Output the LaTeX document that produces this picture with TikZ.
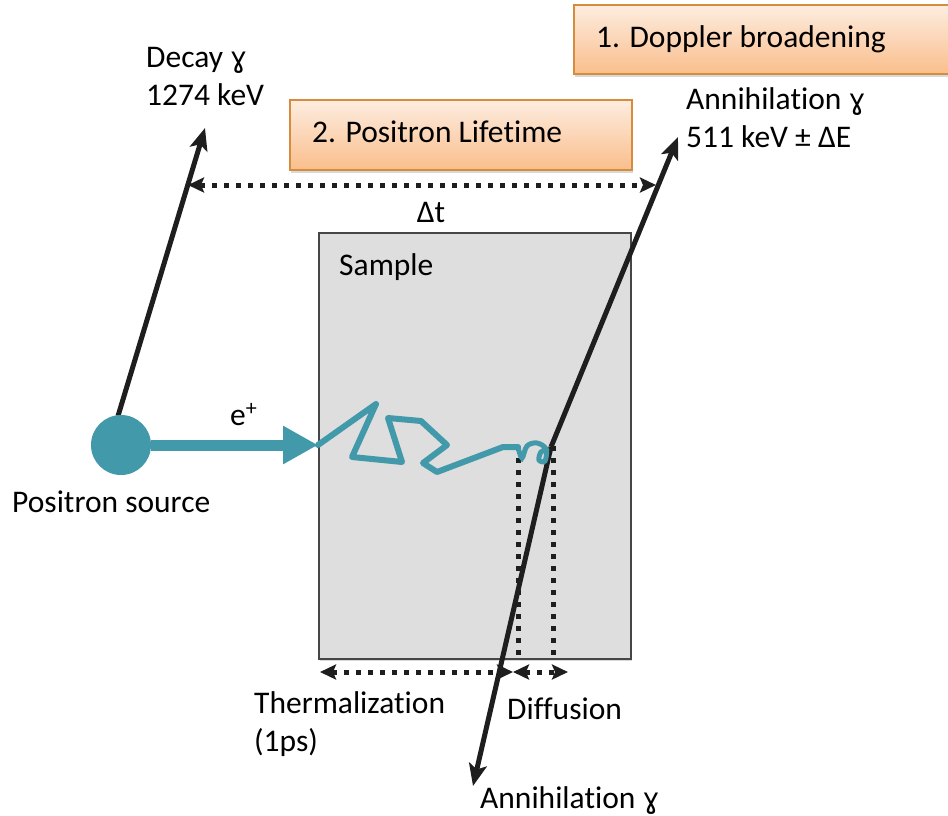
\documentclass[tikz,border=0pt]{standalone}
\usepackage{fontspec}
\setmainfont{Carlito}[Ligatures=NoCommon]
\newfontfamily\dv[Scale=0.9]{DejaVu Sans}
\usetikzlibrary{arrows.meta}
\definecolor{teal1}{RGB}{66,153,170}
\definecolor{boxtop}{RGB}{253,237,224}
\definecolor{boxbot}{RGB}{250,190,140}
\definecolor{boxedge}{RGB}{214,140,60}
\definecolor{samplefill}{RGB}{222,222,222}
\definecolor{sampleedge}{RGB}{70,70,70}
\definecolor{ink}{RGB}{30,30,30}
\newcommand{\gam}{{\dv ɣ}}
\begin{document}
\begin{tikzpicture}[x=1pt,y=-1pt,
  txt/.style={font=\fontsize{31.5}{38}\selectfont, inner sep=0pt, anchor=base west, align=left, text=black},
  gline/.style={draw=ink, line width=5pt},
  gtip/.style={-{Stealth[length=22pt,width=18pt,inset=5pt]}},
  dots/.style={draw=ink, line width=5pt, dash pattern=on 5pt off 7pt},
  darrow/.style={{Stealth[length=16pt,width=15pt,inset=3pt]}-{Stealth[length=16pt,width=15pt,inset=3pt]}},
  obox/.style={draw=boxedge, line width=1.6pt, top color=boxtop, bottom color=boxbot, inner sep=0pt, anchor=north west},
  shade/.style={fill=black, opacity=0.15, draw=none, inner sep=0pt, anchor=north west}
]
\useasboundingbox (0,0) rectangle (948,815);

% sample
\node[shade, minimum width=312pt, minimum height=426pt] (sampleshadow) at (320,235) {};
\node[draw=sampleedge, line width=1.5pt, fill=samplefill, minimum width=312pt, minimum height=426pt, inner sep=0pt, anchor=north west] (sample) at (318,232) {};

% boxes
\node[shade, minimum width=342pt, minimum height=70pt] (b2shadow) at (291,103) {};
\node[obox, minimum width=342pt, minimum height=70pt] (b2) at (289,99) {};
\node[shade, minimum width=380pt, minimum height=69pt] (b1shadow) at (575,8) {};
\node[obox, minimum width=380pt, minimum height=69pt] (b1) at (573,4) {};

% coordinates
\coordinate (dstart) at (118,416);
\coordinate (dtip) at (205,128);
\coordinate (entry) at (318,445);
\coordinate (bend) at (551,447);
\coordinate (atop) at (678,137);
\coordinate (abot) at (473,786);
\coordinate (dl1) at (518,446);
\coordinate (dl2) at (518,656);
\coordinate (dr1) at (553,446);
\coordinate (dr2) at (553,656);
\coordinate (th1) at (320,672);
\coordinate (th2) at (513,672);
\coordinate (df2) at (568,672);
\coordinate (dt1) at (188,185);
\coordinate (dt2) at (656,185);

% dotted lines
\draw[dots] (dl1) -- (dl2);
\draw[dots] (dr1) -- (dr2);
\draw[dots, darrow] (th1) -- (th2);
\draw[dots, darrow] (th2) -- (df2);
\draw[dots, darrow] (dt1) -- (dt2);

% gamma lines
\draw[gline, gtip] (dstart) -- (dtip);
\draw[gline, gtip] (bend) -- (atop);
\draw[gline, gtip] (bend) -- (abot);

% source and positron path
\node[circle, fill=teal1, minimum size=60pt, inner sep=0pt] (src) at (121,445) {};
\draw[teal1, line width=11pt, -{Triangle[length=35pt,width=36pt]}] (src.east) -- (entry);
\draw[teal1, line width=6pt, line join=round, line cap=round]
  (entry) -- (376,404) -- (352,457) -- (402,462) -- (388,418) -- (421,421)
  -- (447,445) -- (423,463) -- (437,472) -- (503,447) -- (518,447);
\draw[teal1, line width=5pt, line cap=round]
  plot[smooth, tension=0.6] coordinates {(518,447) (522,458) (527,446) (537,443) (546,449) (545,461) (539,460) (541,452) (547,450)};

% texts (multi-line nodes: base = last line)
\node[txt] (tdecay) at (146,105) {Decay \gam\\1274 keV};
\node[txt] (tann) at (686,147) {Annihilation \gam\\511 keV ± ΔE};
\node[txt] (tdopp) at (596,47) {1. Doppler broadening};
\node[txt] (tlife) at (312,142) {2. Positron Lifetime};
\node[txt, anchor=base] (tdt) at (431,222) {Δt};
\node[txt] (tsample) at (339,275) {Sample};
\node[txt] (tep) at (230,425) {e\textsuperscript{+}};
\node[txt] (tsrc) at (12,512) {Positron source};
\node[txt] (ttherm) at (254,751) {Thermalization\\(1ps)};
\node[txt] (tdiff) at (507,719) {Diffusion};
\node[txt] (tannb) at (480,808) {Annihilation \gam};
\end{tikzpicture}
\end{document}
